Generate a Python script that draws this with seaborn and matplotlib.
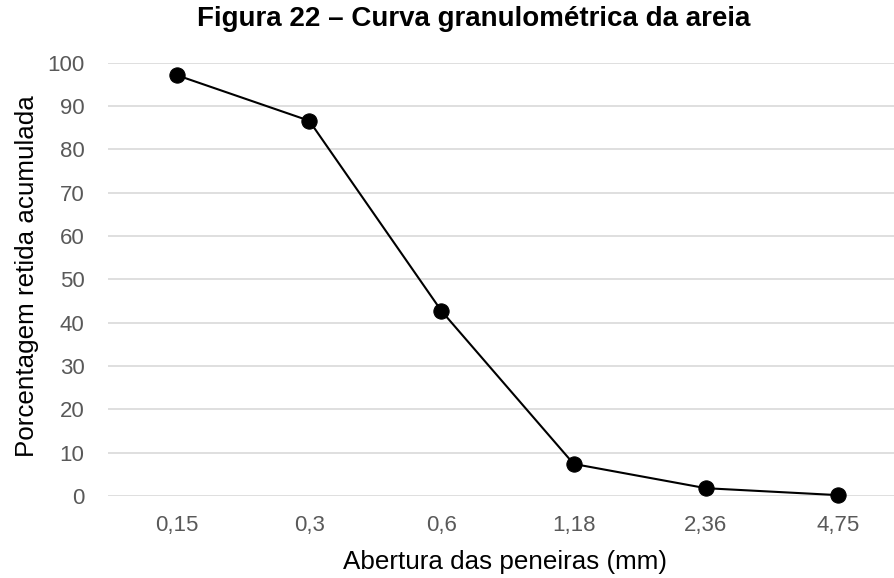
import matplotlib
matplotlib.use("Agg")
import matplotlib.pyplot as plt
import seaborn as sns
import pandas as pd

aberturas = ["0,15", "0,3", "0,6", "1,18", "2,36", "4,75"]
retida = [97.1, 86.6, 42.7, 7.4, 1.8, 0.2]
yticks = [0, 10, 20, 30, 40, 50, 60, 70, 80, 90, 100]

sns.set_theme(style="white")
plt.rcParams['font.family'] = ['Liberation Sans', 'DejaVu Sans']

df = pd.DataFrame({"pos": range(len(aberturas)), "abertura": aberturas, "retida": retida})

fig = plt.figure(figsize=(8.95, 5.78), dpi=100)
ax = fig.add_axes([108/895, 1 - 496/578, 1 - 108/895, (496 - 62.7)/578])

sns.lineplot(data=df, x="pos", y="retida", ax=ax, color="black", linewidth=1.5,
             marker="o", markersize=11, markeredgecolor="black", markerfacecolor="black",
             clip_on=False, zorder=3)

ax.set_xlim(-0.522, 5.43)
ax.set_ylim(0, 100)
ax.set_xticks(range(len(aberturas)))
ax.set_xticklabels(aberturas)
ax.set_yticks(yticks)
ax.tick_params(axis="both", length=0, labelsize=16, colors="#595959")
ax.tick_params(axis="x", pad=14)
ax.tick_params(axis="y", pad=17)
ax.yaxis.grid(True, color="#d9d9d9", linewidth=1.2)
ax.set_axisbelow(True)
for s in ax.spines.values():
    s.set_visible(False)

ax.set_xlabel("")
ax.set_ylabel("")
fig.text(505/895, 1 - 562/578, "Abertura das peneiras (mm)", ha="center", va="center",
         fontsize=18.7, color="black")
fig.text(27/895, 1 - 276/578, "Porcentagem retida acumulada", ha="center", va="center",
         rotation=90, fontsize=18.7, color="black")
fig.text(474/895, 1 - 19/578, "Figura 22 – Curva granulométrica da areia", ha="center",
         va="center", fontsize=20, fontweight="bold", color="black")

fig.savefig("out.png", dpi=100)
